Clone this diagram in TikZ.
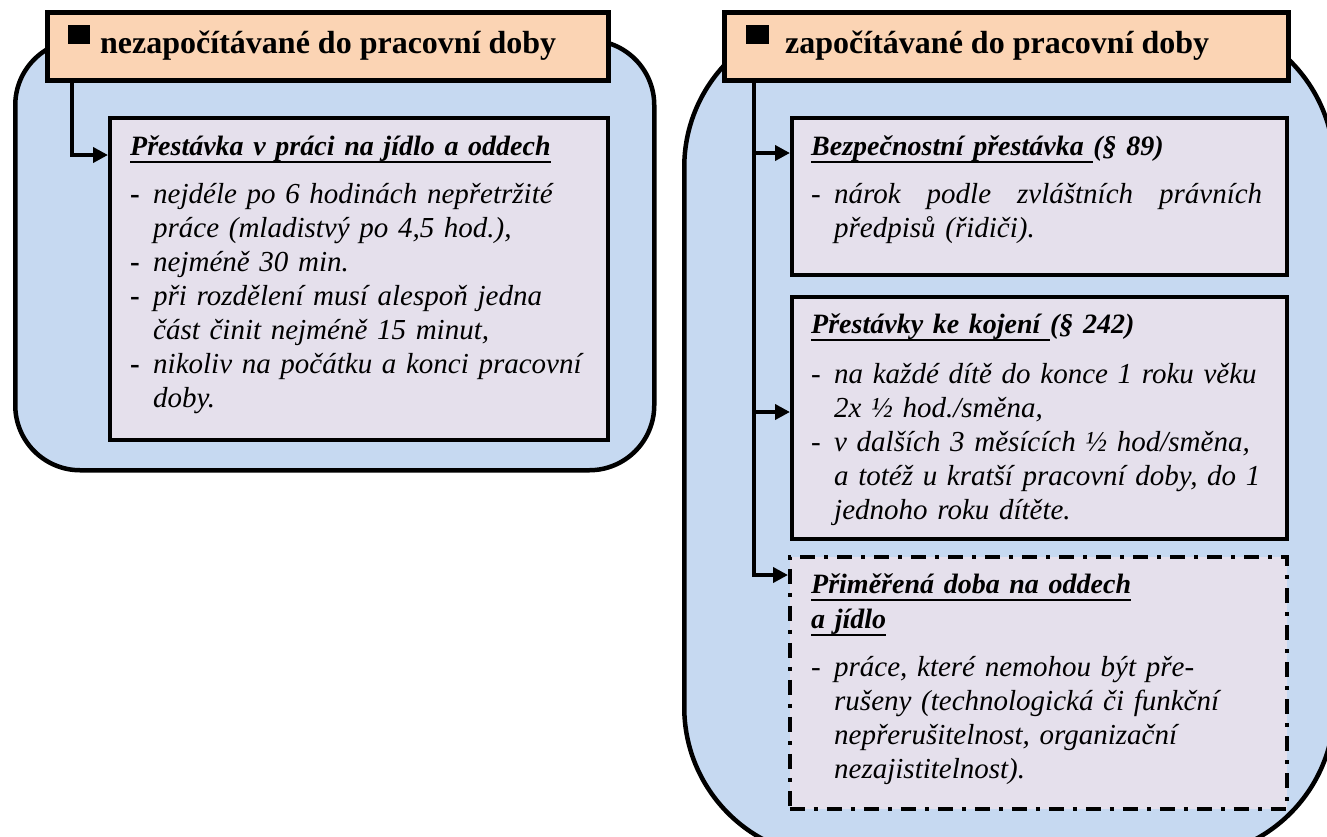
\documentclass[tikz,border=0pt]{standalone}
\usepackage{fontspec}
\setmainfont{Liberation Serif}
\usetikzlibrary{arrows.meta}
\definecolor{outerblue}{HTML}{C6D9F1}
\definecolor{peach}{HTML}{FBD4B4}
\definecolor{lav}{HTML}{E5E0EC}
\newcommand{\dsh}{\makebox[23pt][l]{-}}
\newcommand{\ind}{\hspace*{23pt}}
\newcommand{\myul}[1]{\leavevmode\setbox0\hbox{#1}\rlap{\rule[-8pt]{\wd0}{2pt}}\box0}
\newcommand{\hd}{\fontsize{28}{34}\selectfont\bfseries}
\begin{document}
\begin{tikzpicture}[x=1pt,y=-1pt,
  outerbox/.style={draw=black,fill=outerblue,line width=4.5pt,anchor=north west,inner sep=0pt},
  hdrbox/.style={draw=black,fill=peach,line width=4.5pt,anchor=north west,inner sep=0pt},
  inbox/.style={draw=black,fill=lav,line width=3.5pt,anchor=north west,inner sep=0pt},
  dashbox/.style={draw=black,fill=lav,line width=3.5pt,anchor=north west,inner sep=0pt,
     dash pattern=on 15pt off 9pt on 4pt off 9pt},
  hdrtxt/.style={anchor=base west,inner sep=0pt,font=\fontsize{32}{38}\selectfont\bfseries},
  bodytxt/.style={anchor=base west,inner sep=0pt,text width=490pt,align=left,
     font=\fontsize{29}{34}\selectfont\itshape},
  conn/.style={line width=4pt,-{Triangle[length=15pt,width=15pt]}}]
\useasboundingbox (0,0) rectangle (1327,836);
\clip (0,0) rectangle (1327,836);
% outer containers
\node[outerbox,rounded corners=65pt,minimum width=639pt,minimum height=430pt] (oL) at (13,38) {};
\node[outerbox,rounded corners=150pt,minimum width=650pt,minimum height=840pt] (oR) at (682,15) {};
% headers
\node[hdrbox,minimum width=561pt,minimum height=68pt] (hL) at (45,10) {};
\node[hdrbox,minimum width=564pt,minimum height=68pt] (hR) at (722,10) {};
\node[hdrtxt] (hLt) at (68,53) {\raisebox{9pt}{\rule{22pt}{19pt}}\hspace{10pt}nezapočítávané do pracovní doby};
\node[hdrtxt] (hRt) at (746,53) {\raisebox{9pt}{\rule{23pt}{19pt}}\hspace{16pt}započítávané do pracovní doby};
% inner boxes
\node[inbox,minimum width=498pt,minimum height=322pt] (bL) at (108,116) {};
\node[inbox,minimum width=495pt,minimum height=157pt] (b1) at (790,116) {};
\node[inbox,minimum width=495pt,minimum height=242pt] (b2) at (790,295) {};
\node[dashbox,minimum width=497pt,minimum height=252pt] (b3) at (788,555) {};
% texts
\node[bodytxt] (tL) at (130,155) {\leavevmode{\hd\myul{Přestávka v práci na jídlo a oddech}}\\[14pt]
{\upshape\bfseries\dsh}nejdéle po 6 hodinách nepřetržité\\
\ind práce (mladistvý po 4,5 hod.),\\
{\upshape\bfseries\dsh}nejméně 30 min.\\
{\upshape\bfseries\dsh}při rozdělení musí alespoň jedna\\
\ind část činit nejméně 15 minut,\\
{\upshape\bfseries\dsh}nikoliv na počátku a konci pracovní\\
\ind doby.};
\node[bodytxt] (t1) at (811,155) {\leavevmode{\hd\myul{Bezpečnostní přestávka }(§ 89)}\\[14pt]
\dsh\hbox to 428pt{nárok\hfill podle\hfill zvláštních\hfill právních}\\
\ind předpisů (řidiči).};
\node[bodytxt] (t2) at (811,333) {\leavevmode{\hd\myul{Přestávky ke kojení }(§ 242)}\\[16pt]
\dsh na každé dítě do konce 1 roku věku\\
\ind 2x ½ hod./směna,\\
\dsh v dalších 3 měsících ½ hod/směna,\\
\ind a totéž u kratší pracovní doby, do 1\\
\ind jednoho roku dítěte.};
\node[bodytxt] (t3) at (811,593) {\leavevmode{\hd\myul{Přiměřená doba na oddech}}\\[1pt]
\leavevmode{\hd\myul{a jídlo}}\\[14pt]
\dsh práce, které nemohou být pře-\\
\ind rušeny (technologická či funkční\\
\ind nepřerušitelnost, organizační\\
\ind nezajistitelnost).};
% connectors
\coordinate (jL) at (72,155);
\draw[conn] (hL.south -| jL) |- (bL.west |- jL);
\coordinate (j1) at (754,153);
\coordinate (j2) at (754,412);
\coordinate (j3) at (754,575);
\draw[conn] (hR.south -| j3) |- (b3.west |- j3);
\draw[conn] (j1) -- (b1.west |- j1);
\draw[conn] (j2) -- (b2.west |- j2);
\end{tikzpicture}
\end{document}
